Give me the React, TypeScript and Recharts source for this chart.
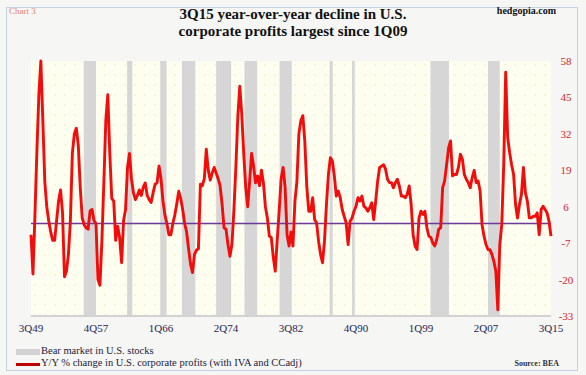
import React from "react"
import { ComposedChart, Line, XAxis, YAxis, ReferenceArea, ReferenceLine } from "recharts"

// Y/Y % change in U.S. corporate profits, quarterly from 3Q49 to 3Q15
const profitYoY = [
  -4, -18, 3, 26, 46, 58, 37, 15, 6, 1, -3, -6, -6, 1, 8, 12, 4, -19, -17, -11,
  1, 25, 32, 34, 28, 13, 2, -0.5, -1.5, -2, 4.5, 5, 1, 0, -20, -22, -6, 15, 37, 46,
  25, 9, 8, -6, -1, -5, -14, 1, 5, 20, 25, 16, 11, 8.5, 10, 12, 10, 13, 14.5, 10,
  8.5, 7.5, 11, 14, 14.5, 20.5, 16, 8, 3, 0, -4, -4, 0, 3, 7, 11.5, 9, 5, 0, -3,
  -9, -14.5, -17.5, -11, -9.5, -9, 14, 13.5, 16, 26.5, 19, 15.5, 18, 20, 18, 16, 13.5, 7, -1.5, -2,
  -7.5, -11.7, -7.5, 4.5, 20, 38, 49, 39, 25, 13, 6, 15, 25, 20.5, 14.5, 17, 13.5, 19, 14.5, 6,
  2, -4.5, -5, -12, -17, -6, 4.5, 16, 20, 13, -4, -8, -3, -8, 8, 15, 32, 36.7, 38.5, 29.5,
  13.4, 4.4, 4.4, 9.2, 1.4, 0.2, -6.3, -11, -14, -6.3, 6.8, 17.5, 23.5, 22.3, 17, 9.8, 11.6, 9.2, 5, 2.6,
  0.2, -7.5, 0.8, 2, 4.4, 6.2, 9.2, 8, 9.8, 6.2, 5.6, 4.4, 5.6, 7.4, 1.4, 8, 15.2, 20, 20.5, 21,
  19.4, 15.8, 14.6, 14.6, 12.8, 14.6, 15.8, 13.4, 9.8, 9.8, 9.2, 10.4, 13.4, 6.8, -4, -8, -9.3, 2, 4.4, 3.2,
  4.4, -1.5, -4.5, -5, -7, -8, -5.7, -2, -1.5, 12.8, 15.2, 21, 27, 29.5, 17, 17.5, 17.5, 20, 24.7, 23,
  17.5, 15.8, 14.6, 12.8, 16.4, 19, 14.6, 15.2, 11.6, -0.4, -4.5, -7.5, -9.3, -9.3, -11, -13.5, -17, -30.8, -7.5, -0.4,
  21, 54, 30.7, 25.3, 21, 17.6, 6.8, 2, 6.8, 10.4, 20, 11, 8, 2, 2, 2.6, 2.6, 3.8, -4, 5,
  6.2, 5, 3.8, 0.8, -4.5,
]

const firstQuarter = "3Q49"
const xTickLabels = ["3Q49", "4Q57", "1Q66", "2Q74", "3Q82", "4Q90", "1Q99", "2Q07", "3Q15"]
const yTicks = [58, 45, 32, 19, 6, -7, -20, -33]

// bear markets in U.S. stocks, as decimal years
const bearStarts = [1956.2, 1961.7, 1965.9, 1968.65, 1973.0, 1976.6, 1981.05, 1987.4, 1990.25, 2000.2, 2007.5]
const bearEnds = [1957.75, 1962.35, 1966.7, 1970.35, 1974.9, 1978.2, 1982.6, 1987.8, 1990.6, 2002.55, 2009.0]

const quarterToYear = (label: string) => {
  const q = Number(label[0])
  const yy = Number(label.slice(2))
  return (yy < 30 ? 2000 : 1900) + yy + (q - 1) / 4
}

const start = quarterToYear(firstQuarter)
const data = profitYoY.map((v, i) => ({ t: start + i / 4, yoy: v }))
const xTicks = xTickLabels.map(quarterToYear)
const end = xTicks[xTicks.length - 1]

const serif = "'Liberation Serif', 'Times New Roman', serif"

const RightTick = (props: any) => (
  <text x={566} y={props.y} dy={4} textAnchor="middle" fill="#d1262c" fontSize={11} fontFamily={serif}>
    {props.payload.value}
  </text>
)

export default function App() {
  return (
    <div style={{ position: "absolute", left: 0, top: 0, width: 586, height: 375, background: "#f6f6f4", fontFamily: serif }}>
      <div style={{ position: "absolute", left: 6, top: 7, width: 572, height: 364, border: "1px solid #c5d1e2", boxSizing: "border-box" }} />
      <div style={{ position: "absolute", left: 9, top: 6, fontSize: 9, color: "#e3826a" }}>Chart 3</div>
      <div style={{ position: "absolute", right: 30, top: 5, fontSize: 10, fontWeight: "bold", color: "#111" }}>hedgopia.com</div>
      <div style={{ position: "absolute", left: 0, width: 586, top: 6, textAlign: "center", fontSize: 15, fontWeight: "bold", lineHeight: "17px", color: "#111" }}>
        3Q15 year-over-year decline in U.S.
        <br />
        corporate profits largest since 1Q09
      </div>

      <ComposedChart width={586} height={375} data={data} margin={{ top: 61, right: 0, bottom: 39, left: 31 }} style={{ position: "absolute", left: 0, top: 0 }}>
        <defs>
          <pattern id="dots" width="10" height="10" patternUnits="userSpaceOnUse">
            <rect width="10" height="10" fill="#fdfdf0" />
            <circle cx="5" cy="5" r="0.8" fill="#eeebb4" />
          </pattern>
        </defs>
        <XAxis
          dataKey="t"
          type="number"
          domain={[start, end]}
          ticks={xTicks}
          tickFormatter={(v) => xTickLabels[xTicks.indexOf(v)] ?? ""}
          axisLine={{ stroke: "#d2d2d2", strokeWidth: 2 }}
          tickLine={false}
          tick={{ fill: "#1d2554", fontSize: 11, fontFamily: serif }}
          height={20}
        />
        <YAxis orientation="right" domain={[-33, 58]} ticks={yTicks} axisLine={false} tickLine={false} tick={<RightTick />} width={35} />
        <ReferenceArea x1={start} x2={end} y1={-33} y2={58} fill="url(#dots)" fillOpacity={1} stroke="none" />
        {bearStarts.map((s, i) => (
          <ReferenceArea key={s} x1={s} x2={bearEnds[i]} y1={-33} y2={58} fill="#d6d6d6" fillOpacity={1} stroke="none" />
        ))}
        <ReferenceLine y={0} stroke="#6a3a9c" strokeWidth={1.5} />
        <Line type="linear" dataKey="yoy" stroke="#f20d0d" strokeWidth={2.9} strokeLinejoin="round" dot={false} isAnimationActive={false} />
      </ComposedChart>

      <div style={{ position: "absolute", left: 16, top: 349, width: 24, height: 6, background: "#d3d3d3" }} />
      <div style={{ position: "absolute", left: 41, top: 345, fontSize: 10.5, color: "#1b1b3a" }}>Bear market in U.S. stocks</div>
      <div style={{ position: "absolute", left: 16, top: 363, width: 24, height: 3, background: "#c00000" }} />
      <div style={{ position: "absolute", left: 41, top: 357, fontSize: 10.5, color: "#1b1b3a" }}>
        Y/Y % change in U.S. corporate profits (with IVA and CCadj)
      </div>
      <div style={{ position: "absolute", right: 27, top: 359, fontSize: 8, fontWeight: "bold", color: "#333" }}>Source: BEA</div>
    </div>
  )
}
